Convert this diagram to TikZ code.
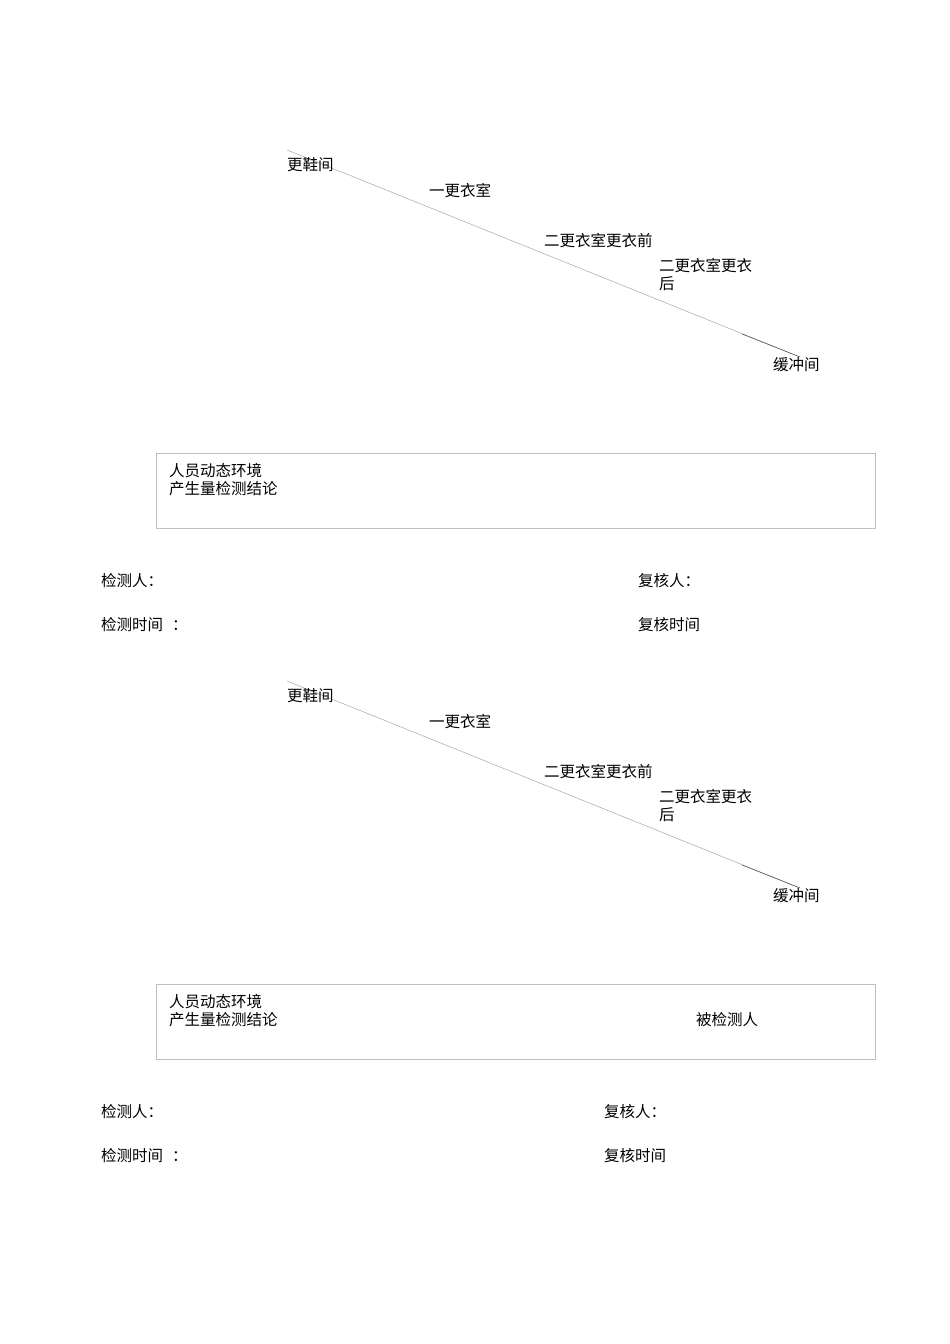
\documentclass[tikz,border=0pt]{standalone}
\usepackage{fontspec}
\setmainfont{Noto Sans CJK SC}
\usepackage{tikz}

\tikzset{
	lbl/.style={anchor=west, inner sep=0pt, font=\fontsize{15.5}{18.5}\selectfont},
	cellbox/.style={draw=black!25, line width=0.8pt},
	diag/.style={draw=black!35, line width=0.5pt}
}

\begin{document}
\begin{tikzpicture}[x=1pt, y=-1pt]
	\useasboundingbox (0,0) rectangle (950,1344);

	% first sheet
	\coordinate (da) at (287,150);
	\coordinate (db) at (742,334);
	\coordinate (dc) at (800,357);
	\draw[diag] (da) -- (dc);
	\draw[black!70, line width=0.5pt] (db) -- (dc);
	\node[lbl] (shoeA) at (287,165) {更鞋间};
	\node[lbl] (firstA) at (429,191) {一更衣室};
	\node[lbl] (preA) at (544,241) {二更衣室更衣前};
	\node[lbl, anchor=north west, align=left] (postA) at (659,258) {二更衣室更衣\\后};
	\node[lbl] (bufA) at (773,365) {缓冲间};

	\draw[cellbox] (156,453) rectangle (875,528);
	\node[lbl, anchor=north west, align=left] (conclA) at (169,463) {人员动态环境\\产生量检测结论};

	\node[lbl] (testerA) at (101,581) {检测人：};
	\node[lbl] (checkerA) at (638,581) {复核人：};
	\node[lbl] (ttimeA) at (101,625) {检测时间\hspace{9pt}：};
	\node[lbl] (ctimeA) at (638,625) {复核时间};

	% second sheet
	\coordinate (ea) at (287,681);
	\coordinate (eb) at (742,865);
	\coordinate (ec) at (800,888);
	\draw[diag] (ea) -- (ec);
	\draw[black!70, line width=0.5pt] (eb) -- (ec);
	\node[lbl] (shoeB) at (287,696) {更鞋间};
	\node[lbl] (firstB) at (429,722) {一更衣室};
	\node[lbl] (preB) at (544,772) {二更衣室更衣前};
	\node[lbl, anchor=north west, align=left] (postB) at (659,789) {二更衣室更衣\\后};
	\node[lbl] (bufB) at (773,896) {缓冲间};

	\draw[cellbox] (156,984) rectangle (875,1059);
	\node[lbl, anchor=north west, align=left] (conclB) at (169,994) {人员动态环境\\产生量检测结论};
	\node[lbl] (subjB) at (696,1020) {被检测人};

	\node[lbl] (testerB) at (101,1112) {检测人：};
	\node[lbl] (checkerB) at (604,1112) {复核人：};
	\node[lbl] (ttimeB) at (101,1156) {检测时间\hspace{9pt}：};
	\node[lbl] (ctimeB) at (604,1156) {复核时间};
\end{tikzpicture}
\end{document}
